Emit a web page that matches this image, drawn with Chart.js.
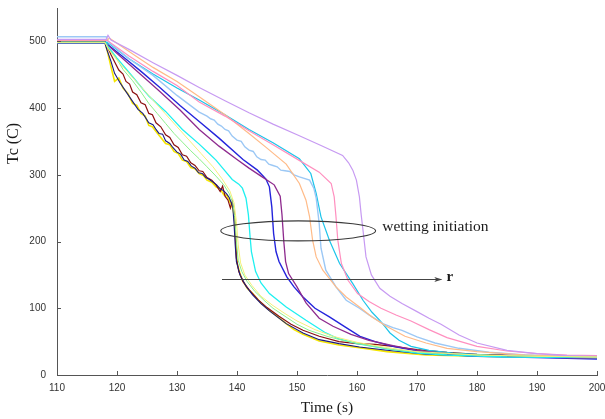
<!DOCTYPE html>
<html>
<head>
<meta charset="utf-8">
<script src="https://cdn.jsdelivr.net/npm/chart.js@4/dist/chart.umd.min.js"></script>
<style>
  html, body { margin: 0; padding: 0; background: #fff; }
  #wrap { width: 605px; height: 419px; position: relative; }
</style>
</head>
<body>
<div id="wrap"><canvas id="c" width="605" height="419"></canvas></div>
<script>
// ---- data: [time (s), Tc (C)] ----
const xTicks = [110, 120, 130, 140, 150, 160, 170, 180, 190, 200];
const yTicks = [0, 100, 200, 300, 400, 500];

const sLavender = [[110,503],[118.2,503],[118.5,509],[119,502],[122,488],[126,468],[130,449],[133.7,431],[138,411],[142,393],[146,376],[150.3,359],[154,344],[157.6,329],[158.6,318],[159.3,307],[159.9,292],[160.4,267],[160.7,240],[161,217],[161.5,177],[162.4,150],[163.8,130],[165.5,118],[167.5,107],[170,95],[172,85],[174,76],[177,60],[180,48],[185,37],[190,32],[195,29],[200,28]];
const sPink = [[110,502],[118.3,502],[118.6,500],[122,478],[126,455],[130,434],[133.7,409],[138,388],[142,366],[146,345],[150.3,322],[153.7,304],[155.7,287],[156.2,267],[156.5,237],[156.8,202],[157.4,167],[158.5,142],[160.1,122],[162,110],[164,100],[166.5,90],[169,81],[172,68],[175,56],[180,43],[185,36],[190,32],[195,30],[200,29]];
const sCyan = [[110,499],[118.3,499],[118.6,497],[122,474],[126,451],[130,430],[133.7,412],[138,390],[142,368],[146,348],[150.4,324],[152.3,302],[153.2,272],[154,237],[155.4,202],[157.1,167],[159.3,137],[161,112],[162.5,94],[163.8,82],[164.7,72],[165.5,63],[167,52],[169,43],[172,37],[176,33],[182,30],[190,28],[200,26]];
const sLightBlue = [[110,507],[118.2,507],[118.5,500],[122,474],[126,449],[130,419],[133.7,394],[135,388],[135.6,384],[136.2,382],[136.8,376],[137.4,373],[138,368],[138.6,366],[139.2,358],[140,352],[140.7,350],[141.3,342],[142,337],[142.7,335],[143.3,327],[144,323],[144.7,322],[145.3,316],[146,314],[146.7,312],[147.3,307],[148,306],[148.8,305],[149.5,300],[150.4,297],[152.1,292],[152.8,280],[153.2,265],[153.7,227],[154,190],[154.8,157],[156.5,132],[158.2,112],[160.4,100],[162,90],[164.3,77],[166,71],[167.5,67],[170,57],[173,48],[177,40],[182,34],[188,30],[195,28],[200,27]];
const sOrange = [[110,502],[118.4,502],[118.7,505],[120,497],[123,479],[126,461],[130,440],[133.7,417],[138,390],[142,362],[145,340],[148.2,316],[150.4,287],[151.5,262],[152.1,237],[152.6,202],[153.2,177],[154.3,157],[156.5,132],[158.2,117],[160.4,102],[162.5,87],[164.9,73],[168,58],[171.5,48],[175,40],[180,35],[188,30],[195,28],[200,27]];
const sBlue = [[110,497],[118.2,497],[118.5,495],[121,477],[124,455],[127,432],[130.5,404],[133.7,380],[137,355],[141,323],[143.4,307],[144.8,294],[145.4,282],[145.8,252],[146.1,212],[146.5,185],[147,170],[148.3,147],[149.5,132],[151,117],[153,100],[155.4,87],[158,72],[160.5,58],[163,50],[166,43],[170,36],[175,31],[180,28],[190,26],[200,24]];
const sPurple = [[110,498],[118.2,498],[118.5,494],[121,474],[124,450],[127,426],[130.5,397],[133.7,368],[137,343],[140,323],[142,310],[144,298],[146.2,285],[147.2,268],[147.5,240],[147.8,200],[148.1,170],[148.6,152],[150,132],[151.5,108],[153.7,85],[156,73],[159,61],[162,52],[166,44],[170,37],[175,32],[180,29],[190,27],[200,25]];
const sCyanBright = [[110,498],[118.2,498],[118.5,492],[120,475],[122.6,447],[125.3,418],[128.1,395],[130.9,368],[133.7,346],[135,335],[136.5,322],[138,306],[139.2,293],[140.3,286],[140.9,280],[141.5,265],[141.9,240],[142.2,205],[142.4,185],[143.1,155],[144,138],[145.4,122],[148.2,102],[151.5,82],[154.8,63],[157,54],[160,47],[165,39],[170,33],[175,30],[185,27],[200,26]];
const sLightYellow = [[110,498],[118,498],[118.6,488],[120,472],[122,452],[124,432],[126,412],[128,392],[130,372],[132,352],[134,332],[136,312],[137.5,294],[138.8,276],[139.5,258],[139.9,230],[140.2,195],[140.6,168],[141.3,150],[142.5,134],[144,118],[146,104],[148,92],[150,81],[153,68],[156,58],[160,49],[165,41],[170,35],[180,30],[190,28],[200,27]];
const sLightGreen = [[110,499],[118,499],[118.5,490],[119.8,476],[121,458],[122.6,441],[124,424],[125.3,407],[126.7,392],[128.1,377],[129.5,362],[130.9,349],[132.3,336],[133.7,324],[135,312],[136.5,298],[137.8,285],[138.7,272],[139.3,258],[139.6,238],[139.9,200],[140.2,172],[140.8,155],[141.7,140],[143,125],[144.5,112],[146,100],[148,88],[150,76],[152,67],[155,58],[158,51],[162,44],[166,38],[172,33],[180,30],[190,28],[200,27]];
const sDarkRed = [[110,500],[118,500],[118.3,494],[119,480],[120.3,457],[121,451],[121.5,440],[122.1,436],[122.6,424],[123.3,420],[124,408],[124.7,405],[125.3,392],[125.9,390],[126.5,378],[127.3,372],[128.1,360],[128.8,356],[129.5,345],[130.2,341],[130.9,330],[131.6,328],[132.3,318],[133,314],[133.7,306],[134.3,305],[135,296],[135.8,292],[136.5,285],[137.2,275],[137.6,283],[138,268],[138.5,262],[138.9,250],[139.2,260],[139.5,245],[139.7,215],[139.9,175],[140.3,155],[141,140],[142,128],[143.5,113],[145,101],[147,88],[149,76],[151,67],[153.7,58],[157,50],[160,47],[163,46],[166,43],[170,38],[175,34],[180,31],[185,30],[190,29],[195,28],[200,27]];
const sNavy = [[110,497],[118,497],[118.3,488],[119,470],[119.6,452],[120.5,438],[122,418],[123.5,398],[124.3,392],[125.3,378],[126,375],[126.5,368],[127,362],[127.6,361],[128.1,351],[128.8,347],[129.3,341],[130,334],[130.6,331],[131.2,322],[131.8,320],[132.4,313],[133,310],[133.6,303],[134.2,302],[134.8,296],[135.4,293],[136,289],[136.6,285],[137.2,279],[137.8,276],[138.3,271],[138.7,266],[139.3,252],[139.5,228],[139.7,195],[139.9,170],[140.5,150],[141.5,133],[142.6,120],[144,107],[145.4,96],[148.2,77],[151,63],[153.7,53],[157,47],[160.4,42],[165,37],[171.5,31],[180,28],[190,27],[200,25]];
const sYellow = [[110,498],[118,498],[118.4,485],[119,462],[119.6,440],[120.3,445],[121,430],[121.8,422],[122.6,407],[123.3,404],[124,392],[124.7,388],[125.3,374],[125.9,372],[126.5,365],[127.3,356],[128.1,347],[128.8,345],[129.5,335],[130.2,332],[130.9,322],[131.6,320],[132.3,311],[133,309],[133.7,302],[134.4,299],[135,292],[135.8,289],[136.5,282],[137.2,279],[137.8,270],[138.3,269],[138.7,262],[139.3,250],[139.6,235],[139.8,200],[140,168],[140.5,152],[140.9,142],[141.7,130],[142.6,122],[144,108],[145.4,97],[146.8,87],[148.2,77],[149.5,68],[151,61],[153.7,51],[157,45],[160.4,41],[165,35],[171.5,30],[180,28],[190,27],[200,26]];

const seriesList = [
  { data: sLightYellow, color: '#f4f07a', w: 1 },
  { data: sLightGreen,  color: '#8cf08c', w: 1 },
  { data: sLavender,    color: '#c79af2', w: 1.2 },
  { data: sPink,        color: '#ff8fbf', w: 1.2 },
  { data: sOrange,      color: '#ffbb88', w: 1.2 },
  { data: sLightBlue,   color: '#9cc8f5', w: 1.4 },
  { data: sCyan,        color: '#1cc4ea', w: 1.2 },
  { data: sCyanBright,  color: '#1ff0f0', w: 1.3 },
  { data: sPurple,      color: '#8e2a8e', w: 1.3 },
  { data: sBlue,        color: '#2424dc', w: 1.4 },
  { data: sNavy,        color: '#1a1a80', w: 1.1 },
  { data: sDarkRed,     color: '#8b1010', w: 1.2 },
  { data: sYellow,      color: '#f5e600', w: 1.6 }
];

// annotation anchors (data units)
const ellipseCenter = [150.2, 216];
const ellipseRadii = [12.9, 15];
const wettingLabel = 'wetting initiation';
const wettingPos = [164.2, 222];
const arrowFrom = [137.5, 144.6];
const arrowTo = [174.05, 144.6];
const rLabel = 'r';
const rPos = [174.9, 146];
const yTitle = 'Tc (C)';
const yTitlePos = [347];   // Tc value at title centre
const xTitle = 'Time (s)';

const serif = '"Liberation Serif", "Times New Roman", serif';
const sans = '"Liberation Sans", Arial, sans-serif';

const insideTicks = {
  id: 'insideTicks',
  afterDraw(chart) {
    const {ctx, scales: {x, y}} = chart;
    ctx.save();
    ctx.strokeStyle = '#555';
    ctx.lineWidth = 1;
    ctx.beginPath();
    xTicks.forEach(v => {
      const px = Math.round(x.getPixelForValue(v)) + 0.5;
      ctx.moveTo(px, y.bottom); ctx.lineTo(px, y.bottom - 4);
    });
    yTicks.forEach(v => {
      const py = Math.round(y.getPixelForValue(v)) + 0.5;
      ctx.moveTo(x.left, py); ctx.lineTo(x.left + 4, py);
    });
    ctx.stroke();

    // ellipse
    const cx = x.getPixelForValue(ellipseCenter[0]);
    const cy = y.getPixelForValue(ellipseCenter[1]);
    const rx = x.getPixelForValue(ellipseCenter[0] + ellipseRadii[0]) - cx;
    const ry = cy - y.getPixelForValue(ellipseCenter[1] + ellipseRadii[1]);
    ctx.strokeStyle = '#3a3a3a';
    ctx.lineWidth = 1.1;
    ctx.beginPath();
    ctx.ellipse(cx, cy, rx, ry, 0, 0, Math.PI * 2);
    ctx.stroke();

    // arrow
    const ax0 = x.getPixelForValue(arrowFrom[0]);
    const ax1 = x.getPixelForValue(arrowTo[0]);
    const ay = Math.round(y.getPixelForValue(arrowFrom[1])) + 0.5;
    ctx.strokeStyle = '#444';
    ctx.lineWidth = 1;
    ctx.beginPath();
    ctx.moveTo(ax0, ay); ctx.lineTo(ax1, ay);
    ctx.stroke();
    ctx.fillStyle = '#444';
    ctx.beginPath();
    ctx.moveTo(ax1 + 1, ay);
    ctx.lineTo(ax1 - 7, ay - 2.5);
    ctx.lineTo(ax1 - 5, ay);
    ctx.lineTo(ax1 - 7, ay + 2.5);
    ctx.closePath();
    ctx.fill();

    // labels
    ctx.fillStyle = '#1a1a1a';
    ctx.textBaseline = 'middle';
    ctx.textAlign = 'left';
    ctx.font = '15.5px ' + serif;
    ctx.fillText(wettingLabel, x.getPixelForValue(wettingPos[0]), y.getPixelForValue(wettingPos[1]));
    ctx.font = 'bold 15px ' + serif;
    ctx.fillText(rLabel, x.getPixelForValue(rPos[0]), y.getPixelForValue(rPos[1]));

    // y title
    ctx.save();
    ctx.font = '16px ' + serif;
    ctx.textAlign = 'center';
    ctx.translate(14, y.getPixelForValue(yTitlePos[0]));
    ctx.rotate(-Math.PI / 2);
    ctx.fillText(yTitle, 0, 0);
    ctx.restore();
    ctx.restore();
  }
};

new Chart(document.getElementById('c'), {
  type: 'scatter',
  data: {
    datasets: seriesList.map(s => ({
      data: s.data.map(p => ({ x: p[0], y: p[1] })),
      showLine: true,
      borderColor: s.color,
      backgroundColor: s.color,
      borderWidth: s.w,
      pointRadius: 0,
      tension: 0,
      fill: false
    }))
  },
  options: {
    responsive: false,
    animation: false,
    layout: { padding: { top: 8, right: 8, left: 0, bottom: 0 } },
    plugins: { legend: { display: false }, tooltip: { enabled: false } },
    scales: {
      x: {
        type: 'linear', min: 110, max: 200,
        afterFit(s) { s.height = 44; s.paddingLeft = 0; s.paddingRight = 0; },
        afterBuildTicks(s) { s.ticks = xTicks.map(v => ({ value: v })); },
        grid: { display: false, drawTicks: false, tickLength: 0 },
        border: { display: true, color: '#555', width: 1 },
        ticks: { color: '#333', font: { family: sans, size: 10 }, padding: 7, maxRotation: 0 },
        title: { display: true, text: xTitle, color: '#1a1a1a', font: { family: serif, size: 15.5 }, padding: { top: 0, bottom: 2 } }
      },
      y: {
        type: 'linear', min: 0, max: 550,
        afterFit(s) { s.width = 57; s.paddingTop = 0; s.paddingBottom = 0; },
        afterBuildTicks(s) { s.ticks = yTicks.map(v => ({ value: v })); },
        grid: { display: false, drawTicks: false, tickLength: 0 },
        border: { display: true, color: '#555', width: 1 },
        ticks: { color: '#333', font: { family: sans, size: 10 }, padding: 11 },
        title: { display: false }
      }
    }
  },
  plugins: [insideTicks]
});
</script>
</body>
</html>
